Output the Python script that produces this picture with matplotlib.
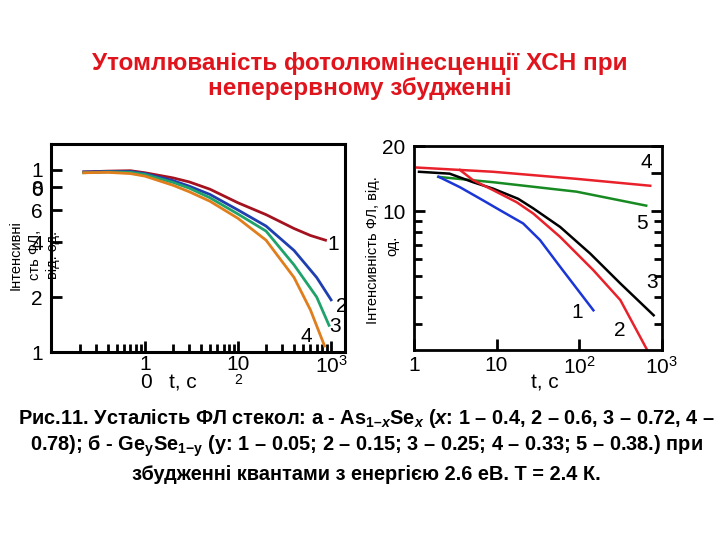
import numpy as np
import matplotlib
matplotlib.use("Agg")
import matplotlib.pyplot as plt
from matplotlib.ticker import LogLocator, NullFormatter, FixedLocator

# -----------------------------
# DATA  (a - As(1-x)Se(x), left panel)
# -----------------------------
t_a1 = [0.22, 0.4, 0.7, 1, 2, 3, 5, 10, 20, 40, 60, 87]
i_a1 = [0.97, 0.98, 0.985, 0.96, 0.90, 0.855, 0.78, 0.657, 0.566, 0.475, 0.435, 0.41]
t_a2 = [0.22, 0.4, 0.7, 1, 2, 3, 5, 10, 20, 40, 70, 100]
i_a2 = [0.97, 0.975, 0.975, 0.95, 0.87, 0.81, 0.73, 0.60, 0.49, 0.36, 0.256, 0.193]
t_a3 = [0.22, 0.4, 0.7, 1, 2, 3, 5, 10, 20, 40, 70, 95]
i_a3 = [0.96, 0.97, 0.965, 0.94, 0.85, 0.79, 0.70, 0.57, 0.46, 0.30, 0.20, 0.14]
t_a4 = [0.22, 0.4, 0.7, 1, 2, 3, 5, 10, 20, 40, 60, 85]
i_a4 = [0.96, 0.965, 0.95, 0.92, 0.82, 0.755, 0.67, 0.54, 0.41, 0.256, 0.17, 0.108]

# (b - Ge(y)Se(1-y), right panel)
t_b1 = [2.0, 3.6, 6.9, 11, 21, 33.6, 58.9, 149]
i_b1 = [14.4, 12.9, 11.2, 10.1, 8.77, 7.35, 5.53, 3.48]
t_b2 = [3.6, 5.2, 9.1, 17.5, 27.8, 58.9, 149, 316, 660]
i_b2 = [15.5, 13.9, 12.5, 11.0, 9.75, 7.6, 5.33, 3.88, 2.3]
t_b3 = [1.15, 2.7, 5.2, 9.1, 18.3, 27.8, 58.9, 136, 316, 800]
i_b3 = [15.2, 14.9, 13.6, 12.7, 11.4, 10.3, 8.45, 6.37, 4.63, 3.30]
t_b4 = [1.09, 9.1, 93, 727]
i_b4 = [15.9, 15.2, 14.1, 13.1]
t_b5 = [1.96, 9.1, 93, 650]
i_b5 = [14.4, 13.6, 12.3, 10.6]

yticks_a = [1, 0.8, 0.6, 0.4, 0.2, 0.1]
ytick_labels_a = ["1", "8", "6", "4", "2", "1"]
xticks_a = [1, 10, 100]
xtick_labels_a = ["1", "10", "$10^3$"]
xticks_b = [1, 10, 100, 1000]
xtick_labels_b = ["1", "10", "$10^2$", "$10^3$"]

title = "Утомлюваність фотолюмінесценції ХСН при\nнеперервному збудженні"
caption = [
    "Рис.11. Усталість ФЛ стекол: а - As$_{\\mathbf{1–}\\mathit{x}}$Se$_{\\mathit{x}}$ ($\\mathit{x}$: 1 – 0.4, 2 – 0.6, 3 – 0.72, 4 –",
    "0.78); б - Ge$_{\\mathbf{y}}$Se$_{\\mathbf{1{-}y}}$ (y: 1 – 0.05; 2 – 0.15; 3 – 0.25; 4 – 0.33; 5 – 0.38.) при",
    "збудженні квантами з енергією 2.6 еВ. Т = 2.4 К.",
]

plt.rcParams["font.family"] = ["Liberation Sans", "DejaVu Sans"]
plt.rcParams["mathtext.fontset"] = "custom"
plt.rcParams["mathtext.rm"] = "Liberation Sans"
plt.rcParams["mathtext.it"] = "Liberation Sans:bold:italic"
plt.rcParams["mathtext.bf"] = "Liberation Sans:bold"

W, H = 720, 540
fig = plt.figure(figsize=(7.2, 5.4), dpi=100)


def px(x, y):
    return x / W, 1 - y / H


# -----------------------------
# LEFT PANEL
# -----------------------------
ax1 = fig.add_axes([51 / W, 1 - 352 / H, 294 / W, 208 / H])
ax1.set_xscale("log")
ax1.set_yscale("log")
ax1.plot(t_a1, i_a1, color="#a3121e", lw=2)
ax1.plot(t_a2, i_a2, color="#1f3fb0", lw=2)
ax1.plot(t_a3, i_a3, color="#1fa36a", lw=2)
ax1.plot(t_a4, i_a4, color="#e07d1c", lw=2)
ax1.set_xlim(0.098, 141)
ax1.set_ylim(0.1, 1.38)
ax1.yaxis.set_major_locator(FixedLocator(yticks_a))
ax1.set_yticklabels(ytick_labels_a)
ax1.yaxis.set_minor_locator(FixedLocator([]))
ax1.set_xticks(xticks_a)
ax1.set_xticklabels(xtick_labels_a)
ax1.xaxis.set_minor_locator(LogLocator(subs=np.arange(2, 10)))
ax1.xaxis.set_minor_formatter(NullFormatter())
ax1.tick_params(which="both", direction="in", labelsize=15, width=2)
ax1.tick_params(which="major", length=8, pad=6)
ax1.tick_params(axis="x", which="major", pad=2)
ax1.tick_params(which="minor", length=6)
for s in ax1.spines.values():
    s.set_linewidth(2.2)

for lab, (x, y) in zip(["1", "2", "3", "4"], [(333, 245), (342, 306), (335, 327), (306, 336)]):
    fig.text(*px(x, y), lab, fontsize=15, ha="center", va="center")
fig.text(*px(37, 190), "0", fontsize=15, ha="center", va="center")
fig.text(*px(146, 383), "0", fontsize=15, ha="center", va="center")
fig.text(*px(238, 380), "2", fontsize=10, ha="center", va="center")
fig.text(*px(183, 383), "t, c", fontsize=15, ha="center", va="center")
fig.text(*px(16, 255), "Інтенсивні", fontsize=10.5, rotation=90, ha="center", va="center")
fig.text(*px(35, 255), "сть ФЛ,", fontsize=10.5, rotation=90, ha="center", va="center")
fig.text(*px(53, 255), "від. од.", fontsize=10.5, rotation=90, ha="center", va="center")

# -----------------------------
# RIGHT PANEL
# -----------------------------
ax2 = fig.add_axes([414 / W, 1 - 350 / H, 248 / W, 204 / H])
ax2.set_xscale("log")
ax2.set_yscale("log")
ax2.plot(t_b4, i_b4, color="#e8212b", lw=1.8)
ax2.plot(t_b5, i_b5, color="#188a22", lw=1.8)
ax2.plot(t_b3, i_b3, color="black", lw=1.8)
ax2.plot(t_b2, i_b2, color="#e8212b", lw=1.8)
ax2.plot(t_b1, i_b1, color="#1a36d6", lw=1.8)
ax2.set_xlim(1, 1010)
ax2.set_ylim(2.28, 20)
ax2.set_xticks(xticks_b)
ax2.set_xticklabels(xtick_labels_b)
ax2.xaxis.set_minor_locator(LogLocator(subs=np.arange(2, 10)))
ax2.xaxis.set_minor_formatter(NullFormatter())
ax2.yaxis.set_major_locator(FixedLocator([10, 20]))
ax2.set_yticklabels(["10", "20"])
ax2.yaxis.set_minor_locator(FixedLocator([3, 4, 5, 6, 7, 8, 9]))
ax2.yaxis.set_minor_formatter(NullFormatter())
ax2.tick_params(which="both", direction="in", labelsize=15, width=2, right=True)
ax2.tick_params(which="major", length=8, pad=6)
ax2.tick_params(axis="x", which="major", pad=4)
ax2.tick_params(which="minor", length=6)
sec = ax2.secondary_yaxis("right")
sec.yaxis.set_major_locator(FixedLocator([15]))
sec.yaxis.set_major_formatter(NullFormatter())
sec.yaxis.set_minor_locator(FixedLocator([]))
sec.tick_params(direction="in", length=8, width=2)
sec.spines["right"].set_visible(False)
for s in ax2.spines.values():
    s.set_linewidth(2)

for lab, (x, y) in zip(["4", "5", "3", "1", "2"],
                       [(646, 163), (642, 224), (652, 283), (577, 313), (620, 330)]):
    fig.text(*px(x, y), lab, fontsize=15, ha="center", va="center")
fig.text(*px(545, 383), "t, c", fontsize=15, ha="center", va="center")
fig.text(*px(373, 250), "Інтенсивність ФЛ, від.", fontsize=10.5, rotation=90, ha="center", va="center")
fig.text(*px(392, 246), "од.", fontsize=10.5, rotation=90, ha="center", va="center")

# -----------------------------
# TITLE AND CAPTION
# -----------------------------
fig.text(*px(360, 76), title, fontsize=17.5, fontweight="bold", color="#e0141c",
         ha="center", va="center", linespacing=1.1)
for line, y in zip(caption, [418, 446, 474]):
    fig.text(*px(366, y), line, fontsize=14.4, fontweight="bold", ha="center", va="center")

fig.savefig("out.png", dpi=100)
